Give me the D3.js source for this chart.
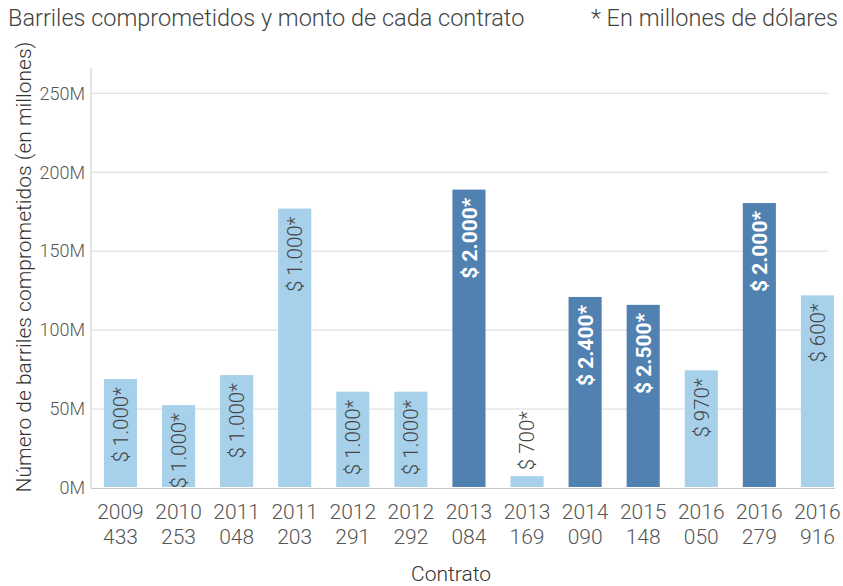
<!DOCTYPE html>
<html>
<head>
<meta charset="utf-8">
<script src="https://cdn.jsdelivr.net/npm/d3@7"></script>
<style>
html,body{margin:0;padding:0;background:#fff;}
svg text{font-family:Roboto,"Liberation Sans",sans-serif;}
</style>
</head>
<body>
<svg id="chart" width="843" height="586"></svg>
<script>
const contratosAnio = ["2009","2010","2011","2011","2012","2012","2013","2013","2014","2015","2016","2016","2016"];
const contratosNum  = ["433","253","048","203","291","292","084","169","090","148","050","279","916"];
const barriles = [69, 52.5, 71.5, 177, 61, 61, 189, 7.5, 121, 116, 74.5, 180.5, 122];
const montos = ["1.000","1.000","1.000","1.000","1.000","1.000","2.000","700","2.400","2.500","970","2.000","600"];
const destacado = [false,false,false,false,false,false,true,false,true,true,false,true,false];
const yTicks = [0,50,100,150,200,250];

const svg = d3.select("#chart");
const x0 = 91, y0 = 488, yTop = 68, gridRight = 828;

const ids = contratosAnio.map((a,i)=>i);
const x = d3.scaleBand().domain(ids).range([92.3, 845.6]).paddingInner(0.43).paddingOuter(0.2);
const y = d3.scaleLinear().domain([0,250]).range([y0, 93.3]);

const light = "#a7d0ea", dark = "#5181b1", txt = "#444";

// gridlines
svg.append("g").selectAll("line").data(yTicks.filter(d=>d>0)).join("line")
  .attr("x1", x0).attr("x2", gridRight)
  .attr("y1", d=>y(d)).attr("y2", d=>y(d))
  .attr("stroke", "#d9d9d9").attr("stroke-width", 1);

// y axis
const yAxis = d3.axisLeft(y).tickValues(yTicks).tickFormat(d=>d+"M").tickSize(0).tickPadding(6);
const gy = svg.append("g").attr("transform", `translate(${x0},0)`).call(yAxis);
gy.select(".domain").remove();
gy.selectAll("text").attr("font-size", 18).attr("fill", "#555").attr("font-weight", 300)
  .attr("font-family", "Roboto, 'Liberation Sans', sans-serif");
svg.append("line").attr("x1", x0).attr("x2", x0).attr("y1", yTop).attr("y2", y0)
  .attr("stroke", "#c8c8c8");
svg.append("line").attr("x1", x0).attr("x2", 835).attr("y1", y0+0.5).attr("y2", y0+0.5)
  .attr("stroke", "#c8c8c8");

// bars
svg.append("g").selectAll("rect").data(ids).join("rect")
  .attr("x", i=>x(i)).attr("width", x.bandwidth())
  .attr("y", i=>y(barriles[i])).attr("height", i=>y(0)-y(barriles[i]) - 1)
  .attr("fill", i=>destacado[i] ? dark : light);

// bar labels
svg.append("g").selectAll("text").data(ids).join("text")
  .attr("transform", i=>{
    const cx = x(i) + x.bandwidth()/2;
    const small = barriles[i] < 20;
    const ty = small ? y(barriles[i]) - 6 : y(barriles[i]) + 8;
    return `translate(${cx},${ty}) rotate(-90)`;
  })
  .attr("text-anchor", i=> barriles[i] < 20 ? "start" : "end")
  .attr("dy", "0.36em")
  .attr("font-size", i=>destacado[i] ? 21 : 20.5)
  .attr("font-weight", i=>destacado[i] ? 700 : 300)
  .attr("fill", i=>destacado[i] ? "#fff" : txt)
  .text(i=>"$ " + montos[i] + "*");

// x labels
const gx = svg.append("g");
gx.selectAll("text.a").data(ids).join("text").attr("class","a")
  .attr("x", i=>x(i)+x.bandwidth()/2).attr("y", 519)
  .attr("text-anchor","middle").attr("font-size",21).attr("font-weight",300).attr("fill","#555")
  .text(i=>contratosAnio[i]);
gx.selectAll("text.b").data(ids).join("text").attr("class","b")
  .attr("x", i=>x(i)+x.bandwidth()/2).attr("y", 544)
  .attr("text-anchor","middle").attr("font-size",21).attr("font-weight",300).attr("fill","#555")
  .text(i=>contratosNum[i]);

// axis titles
svg.append("text").attr("x", 451).attr("y", 581).attr("text-anchor","middle")
  .attr("font-size", 21).attr("font-weight",300).attr("fill","#333").text("Contrato");
svg.append("text").attr("transform", "translate(31,267) rotate(-90)").attr("text-anchor","middle")
  .attr("font-size", 21).attr("font-weight",300).attr("fill","#333")
  .text("Número de barriles comprometidos (en millones)");

// titles
svg.append("text").attr("x", 8).attr("y", 26).attr("font-size", 23.5).attr("font-weight",300)
  .attr("fill","#444").text("Barriles comprometidos y monto de cada contrato");
svg.append("text").attr("x", 838).attr("y", 26).attr("text-anchor","end").attr("font-size", 23.5)
  .attr("font-weight",300).attr("fill","#444").text("* En millones de dólares");
</script>
</body>
</html>
